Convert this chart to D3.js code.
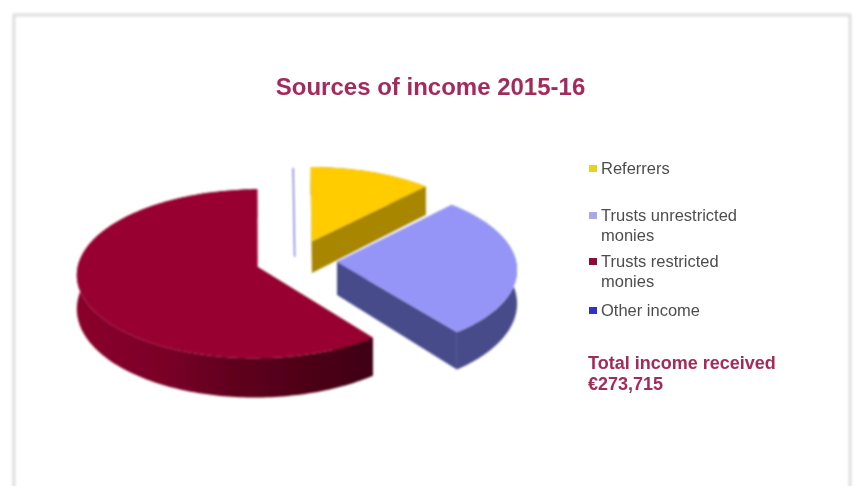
<!DOCTYPE html>
<html><head><meta charset="utf-8">
<script src="https://cdn.jsdelivr.net/npm/d3@7"></script>
<style>html,body{margin:0;padding:0;background:#fff}svg{display:block}text{font-family:"Liberation Sans",Arial,sans-serif}</style>
</head><body><svg id="c" width="854" height="486"></svg>
<script>
const categories = ["Referrers","Trusts unrestricted monies","Trusts restricted monies","Other income"];
const values = [33100,75000,164815,800];
const topColors = ["#FFCC00","#9595F8","#990030","#3333CC"];
const wallColors = ["#A88600","#474C8A","#600020","#22227a"];
const legendColors = ["#e8d21e","#a9a9e8","#8a0a34","#3030c8"];
const legendLines = [["Referrers"],["Trusts unrestricted","monies"],["Trusts restricted","monies"],["Other income"]];
const legendY = [168,215,261,310];
const explode = [0.26,0.235,0.22,0.227];
const titleText = "Sources of income 2015-16";
const totalLines = ["Total income received","€273,715"];

const cx=295, cy=261, rx=179, ry=83, k=0.078, depth=33;
const svg=d3.select("#c");
const defs=svg.append("defs");
const blur=defs.append("filter").attr("id","soft").attr("x","-5%").attr("y","-5%").attr("width","110%").attr("height","110%");
blur.append("feGaussianBlur").attr("stdDeviation",0.8);
const blurT=defs.append("filter").attr("id","softT").attr("x","-5%").attr("y","-20%").attr("width","110%").attr("height","140%");
blurT.append("feGaussianBlur").attr("stdDeviation",0.7);
const sh=defs.append("filter").attr("id","sh").attr("x","-2%").attr("y","-2%").attr("width","104%").attr("height","104%");
sh.append("feGaussianBlur").attr("stdDeviation",1.4);
const grad=defs.append("linearGradient").attr("id","redWall").attr("x1",0).attr("x2",1).attr("y1",0).attr("y2",0);
[[0,"#8a002c"],[0.3,"#7a0028"],[0.55,"#5e001e"],[1,"#3e0012"]].forEach(s=>grad.append("stop").attr("offset",s[0]).attr("stop-color",s[1]));

// panel
svg.append("rect").attr("x",14).attr("y",15).attr("width",836).attr("height",500).attr("fill","#fff").attr("stroke","#d0d0d0").attr("stroke-width",2.2).attr("filter","url(#sh)");

const pie=d3.pie().sort(null).startAngle(0).endAngle(2*Math.PI)(values);
const line=d3.line();
function proj(u,v,down){
  const s=1/(1-k*v);
  return [cx+rx*u*s, cy+ry*v*s+(down?down*depth*s*s:0)];
}
const g=svg.append("g").attr("filter","url(#soft)");
pie.forEach((p,i)=>{
  const mid=(p.startAngle+p.endAngle)/2, e=explode[i];
  const ou=e*Math.sin(mid), ov=-e*Math.cos(mid);
  const n=Math.max(2,Math.ceil((p.endAngle-p.startAngle)/0.02));
  const angles=d3.range(n+1).map(j=>p.startAngle+(p.endAngle-p.startAngle)*j/n);
  const rim=angles.map(a=>[ou+Math.sin(a),ov-Math.cos(a)]);
  const apex=[ou,ov];
  const P=(q,d)=>proj(q[0],q[1],d);
  const wall=i===2?"url(#redWall)":wallColors[i];
  if(i===3){
    const tip=[ou+Math.sin(mid),ov-Math.cos(mid)];
    g.append("path").attr("d",line([P(tip,0),P(apex,0.45)])).attr("fill","none").attr("stroke",d3.interpolateRgb(topColors[i],"#fff")(0.35)).attr("stroke-width",1.4);
    return;
  }
  [rim[0],rim[n]].forEach(q=>{
    g.append("path").attr("d",line([P(apex,0),P(q,0),P(q,1),P(apex,1)])+"Z").attr("fill",wallColors[i]);
  });
  g.append("path").attr("d",line(rim.map(q=>P(q,0)).concat(rim.slice().reverse().map(q=>P(q,1))))+"Z").attr("fill",wall);
  g.append("path").attr("d",line([P(apex,0)].concat(rim.map(q=>P(q,0))))+"Z").attr("fill",topColors[i]);
});

const t=svg.append("g").attr("filter","url(#softT)");
t.append("text").attr("x",430.5).attr("y",94.5).attr("text-anchor","middle").attr("font-size",24).attr("font-weight","bold").attr("fill","#a32c5c").text(titleText);
categories.forEach((c,i)=>{
  t.append("rect").attr("x",589).attr("y",legendY[i]-3).attr("width",8).attr("height",7).attr("fill",legendColors[i]);
  legendLines[i].forEach((l,j)=>{
    t.append("text").attr("x",601).attr("y",legendY[i]+6+j*20).attr("font-size",16.5).attr("fill","#4e4e4e").text(l);
  });
});
totalLines.forEach((l,j)=>{
  t.append("text").attr("x",588).attr("y",369+j*21).attr("font-size",18).attr("font-weight","bold").attr("fill","#a32c5c").text(l);
});
</script></body></html>
